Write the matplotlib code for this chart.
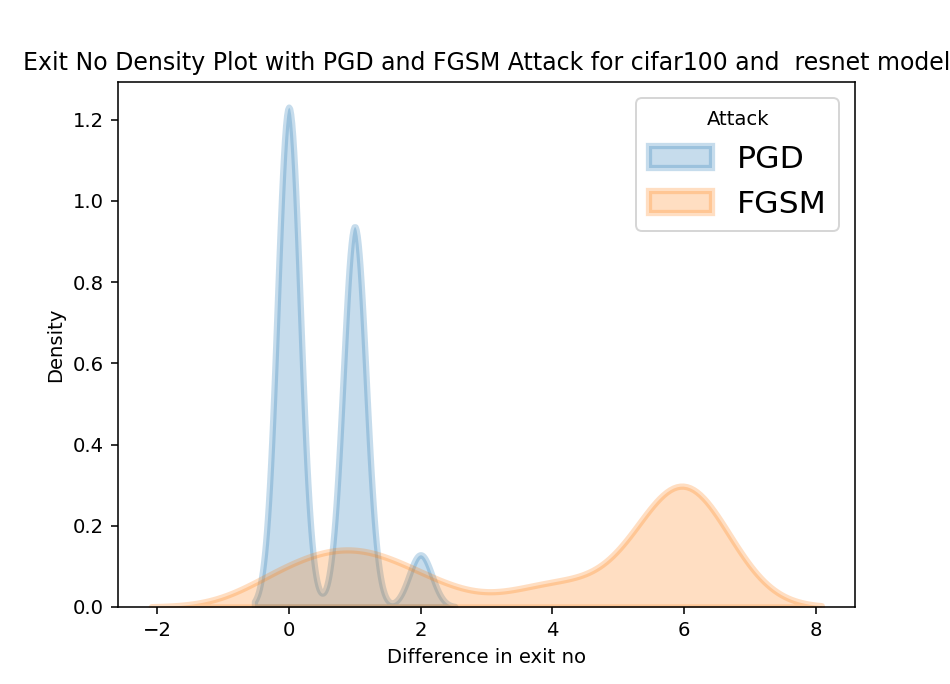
import numpy as np
import matplotlib
matplotlib.use("Agg")
import matplotlib.pyplot as plt
import seaborn as sns
from matplotlib.colors import to_rgba

# Разница в номере выхода и число примеров (500 на атаку)
exit_diff = np.arange(7)
pgd_counts = [268, 204, 28, 0, 0, 0, 0]
fgsm_counts = [58, 86, 43, 1, 42, 18, 252]

pgd = np.repeat(exit_diff, pgd_counts)
fgsm = np.repeat(exit_diff, fgsm_counts)

fig, ax = plt.subplots(figsize=(6.72, 4.834), dpi=141.5)
fig.subplots_adjust(left=0.124, right=0.899, top=0.880, bottom=0.1126)

for data, name, col in [(pgd, 'PGD', 'C0'), (fgsm, 'FGSM', 'C1')]:
    sns.kdeplot(x=data, fill=True, alpha=0.25, color=col,
                edgecolor=to_rgba(col, 0.25), linewidth=3.2, label=name, ax=ax)

ax.set_xlabel('Difference in exit no')
ax.set_ylabel('Density')
ax.set_title('Exit No Density Plot with PGD and FGSM Attack for cifar100 and  resnet model')
ax.legend(title='Attack', fontsize=16, loc='upper right')

fig.savefig("out.png", dpi=141.5)
